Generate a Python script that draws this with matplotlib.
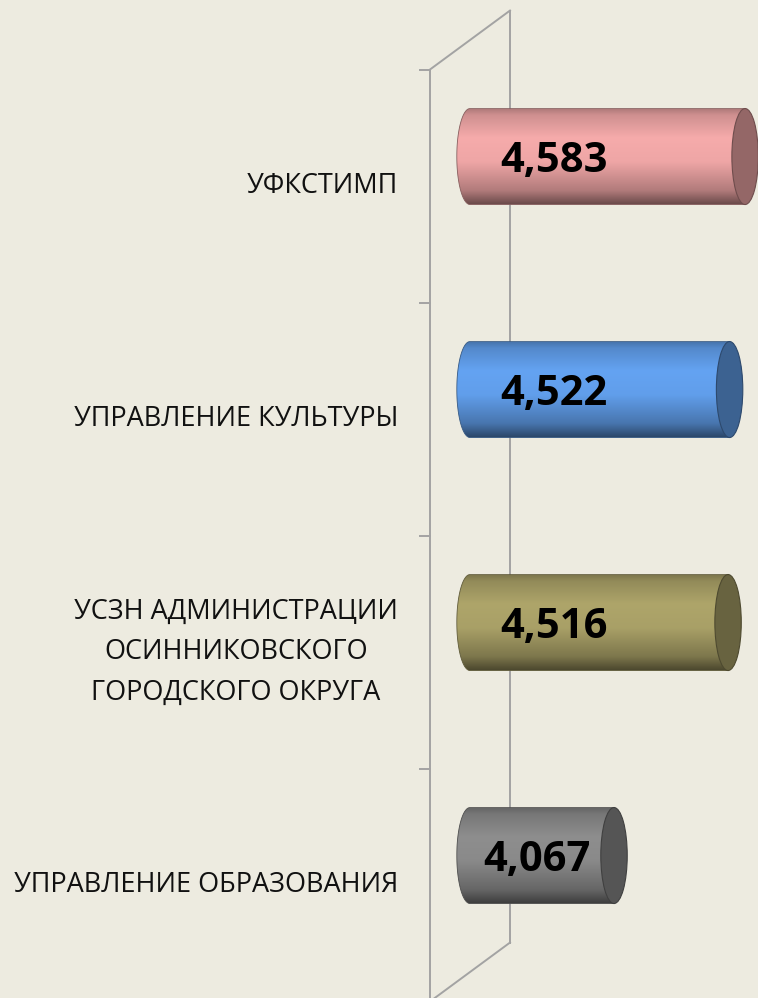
"""Horizontal 3D-cylinder bar chart (Excel-style) recreated with matplotlib."""
import matplotlib

matplotlib.use("Agg")
import matplotlib.pyplot as plt
import numpy as np
from matplotlib.patches import Ellipse, PathPatch
from matplotlib.path import Path

# --- data -------------------------------------------------------------------
categories = [
    "УФКСТИМП",
    "УПРАВЛЕНИЕ КУЛЬТУРЫ",
    "УСЗН АДМИНИСТРАЦИИ\nОСИННИКОВСКОГО\nГОРОДСКОГО ОКРУГА",
    "УПРАВЛЕНИЕ ОБРАЗОВАНИЯ",
]
values = [4.583, 4.522, 4.516, 4.067]
value_labels = ["4,583", "4,522", "4,516", "4,067"]
bar_colors = ["#F6ABAB", "#64A3F2", "#AEA56A", "#8E8E8E"]

# --- style / geometry --------------------------------------------------------
BG = "#EDEBE0"
WALL = "#A3A3A3"
FONT = "Open Sans"
XMIN = 3.5            # value axis origin
PX_PER_UNIT = 254.0   # horizontal scale
DEPTH_DX = 0.315      # 3D depth shift (value units)
DEPTH_DY = -0.253     # 3D depth shift (category units)
BAR_H = 0.412
CAP_HW = 0.052        # half width of cylinder end ellipse

W, H, DPI = 758, 998, 100
fig = plt.figure(figsize=(W / DPI, H / DPI), dpi=DPI, facecolor=BG)
ax = fig.add_axes((0, 0, 1, 1))
ax.set_facecolor(BG)
ax.axis("off")

x_lo = XMIN - 470 / PX_PER_UNIT
x_hi = XMIN + (W - 470) / PX_PER_UNIT
y_top = -186 / 233
y_bot = (H - 186) / 233

# --- wall ---------------------------------------------------------------------
n = len(categories)
xf, xb = XMIN - DEPTH_DX / 2, XMIN + DEPTH_DX / 2
y0, y1 = -0.5, n - 0.5
ax.plot([xf, xf], [y0, y1 + 0.3], color=WALL, lw=1.4, zorder=1)
ax.plot([xb, xb], [y0 + DEPTH_DY, y1 + DEPTH_DY], color=WALL, lw=1.4, zorder=1)
ax.plot([xf, xb], [y0, y0 + DEPTH_DY], color=WALL, lw=1.4, zorder=1)
ax.plot([xb, xf], [y1 + DEPTH_DY, y1], color=WALL, lw=1.4, zorder=1)
for k in range(n):
    ax.plot([xf - 0.04, xf], [k - 0.5, k - 0.5], color=WALL, lw=1.4, zorder=1)

# --- cylinders ----------------------------------------------------------------
profile_t = [0.0, 0.06, 0.3, 0.55, 0.85, 1.0]
profile_f = [0.72, 0.84, 1.0, 0.97, 0.72, 0.42]
t = np.linspace(0, 1, 200)
shade = np.interp(t, profile_t, profile_f)

for i, (v, col) in enumerate(zip(values, bar_colors)):
    yc = i + DEPTH_DY / 2
    top, bot = yc - BAR_H / 2, yc + BAR_H / 2
    rgb = np.array(matplotlib.colors.to_rgb(col))
    img = np.clip(shade[:, None, None] * rgb[None, None, :], 0, 1)

    th = np.linspace(np.pi / 2, 3 * np.pi / 2, 60)
    ex = XMIN + CAP_HW * np.cos(th)
    ey = yc - (BAR_H / 2) * np.sin(th)
    verts = list(zip(ex, ey)) + [(v, bot), (v, top), (ex[0], ey[0])]
    codes = [Path.MOVETO] + [Path.LINETO] * (len(verts) - 2) + [Path.CLOSEPOLY]
    body = PathPatch(Path(verts, codes), facecolor="none", edgecolor="none", transform=ax.transData)
    ax.add_patch(body)
    im = ax.imshow(img, extent=(XMIN - CAP_HW, v, bot, top), origin="upper",
                   aspect="auto", zorder=2, interpolation="bilinear")
    im.set_clip_path(body)
    ax.add_patch(PathPatch(Path(verts, codes), facecolor="none",
                           edgecolor=rgb * 0.55, lw=0.6, zorder=3))

    cap = Ellipse((v, yc), 2 * CAP_HW, BAR_H, facecolor=rgb * 0.6,
                  edgecolor=rgb * 0.45, lw=0.8, zorder=4)
    ax.add_patch(cap)

    lx = min(XMIN + 0.33, (XMIN + v) / 2 - 0.02)
    ax.text(lx, yc + 0.02, value_labels[i], ha="center", va="center",
            fontsize=30, fontweight="bold", family=FONT, color="black", zorder=5)

# --- category labels ------------------------------------------------------------
for i, name in enumerate(categories):
    ax.text(XMIN - 72 / PX_PER_UNIT, i, name, ha="right", va="center",
            multialignment="center", fontsize=19.5, family=FONT,
            color="#111111", linespacing=1.6, zorder=5)

ax.set_xlim(x_lo, x_hi)
ax.set_ylim(y_bot, y_top)

fig.savefig("out.png", dpi=DPI, facecolor=BG)
